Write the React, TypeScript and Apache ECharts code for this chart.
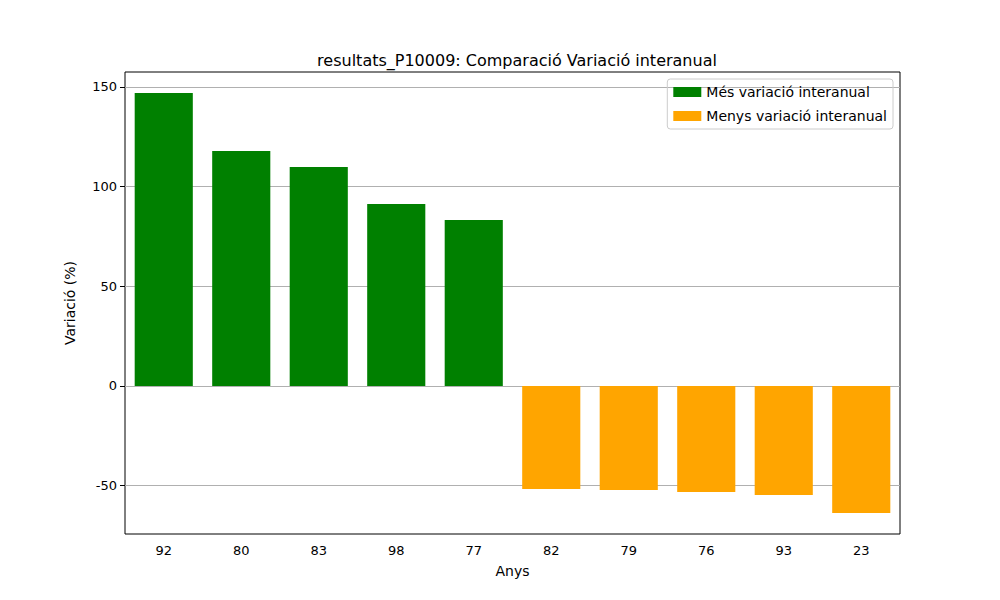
import { useEffect, useRef } from 'react';
import * as echarts from 'echarts';

const categories = ['92', '80', '83', '98', '77', '82', '79', '76', '93', '23'];
const moreValues = [146.9, 117.8, 109.8, 91.2, 83.2, null, null, null, null, null];
const lessValues = [null, null, null, null, null, -51.6, -52.1, -53.1, -54.6, -63.7];
const yTicks = [-50, 0, 50, 100, 150];

export default function App() {
  const chartRef = useRef<HTMLDivElement>(null);

  useEffect(() => {
    if (!chartRef.current) return;
    const chart = echarts.init(chartRef.current, null, { renderer: 'svg' });
    const font = 'DejaVu Sans';
    chart.setOption({
      animation: false,
      textStyle: { fontFamily: font },
      title: {
        text: 'resultats_P10009: Comparació Variació interanual',
        left: 512,
        top: 47,
        textAlign: 'center',
        textStyle: { fontSize: 16, fontWeight: 'normal', color: '#000', fontFamily: font },
      },
      legend: {
        orient: 'vertical',
        right: 107,
        top: 79,
        itemWidth: 28,
        itemHeight: 10,
        itemGap: 10,
        padding: [6, 6, 6, 6],
        borderColor: '#ccc',
        borderWidth: 1,
        borderRadius: 3,
        icon: 'rect',
        textStyle: { fontSize: 14, color: '#000', fontFamily: font },
        data: ['Més variació interanual', 'Menys variació interanual'],
      },
      grid: {
        left: 125, right: 100, top: 72, bottom: 66,
        show: true, borderColor: '#000', borderWidth: 1, backgroundColor: 'transparent',
      },
      xAxis: {
        type: 'category',
        data: categories,
        name: 'Anys',
        nameLocation: 'middle',
        nameGap: 30,
        nameTextStyle: { fontSize: 14, color: '#000', fontFamily: font },
        axisLine: { show: false },
        axisTick: { alignWithLabel: true, lineStyle: { color: '#000' } },
        axisLabel: { fontSize: 13, color: '#000', margin: 10 },
        splitLine: { show: false },
      },
      yAxis: {
        type: 'value',
        min: -74.2,
        max: 157.4,
        name: 'Variació (%)',
        nameLocation: 'middle',
        nameGap: 48,
        nameTextStyle: { fontSize: 14, color: '#000', fontFamily: font },
        axisLine: { show: false },
        axisTick: { show: true, customValues: yTicks, lineStyle: { color: '#000' } },
        axisLabel: { fontSize: 13, color: '#000', customValues: yTicks },
        splitLine: { show: false },
      },
      series: [
        {
          name: 'Més variació interanual',
          type: 'bar',
          stack: 'v',
          barWidth: '75%',
          itemStyle: { color: '#008000' },
          data: moreValues,
          z: 3,
          markLine: {
            silent: true,
            symbol: 'none',
            label: { show: false },
            lineStyle: { color: '#b0b0b0', width: 1, type: 'solid' },
            data: yTicks.map((v) => ({ yAxis: v })),
            z: 1,
          },
        },
        {
          name: 'Menys variació interanual',
          type: 'bar',
          stack: 'v',
          barWidth: '75%',
          itemStyle: { color: '#ffa500' },
          data: lessValues,
          z: 3,
        },
      ],
    });
    return () => chart.dispose();
  }, []);

  return <div ref={chartRef} style={{ width: 1000, height: 600, margin: -8 }} />;
}
